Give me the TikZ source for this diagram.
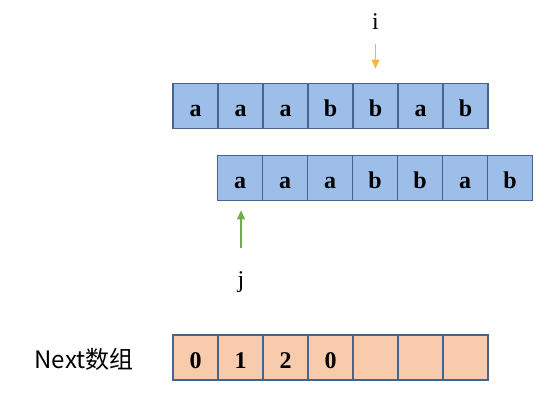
\documentclass[tikz,border=0pt]{standalone}
\usepackage{fontspec}
\setmainfont{Liberation Serif}
\newfontfamily\cjk{Noto Sans CJK SC}
\usepackage{tikz}
\usetikzlibrary{arrows.meta}
\usetikzlibrary{positioning}
\definecolor{cellblue}{HTML}{9DBEE8}
\definecolor{cellorange}{HTML}{F8CBAD}
\definecolor{cellline}{HTML}{44668E}
\definecolor{iorange}{HTML}{F9B632}
\definecolor{jgreen}{HTML}{70AD47}
\tikzstyle{cell} = [rectangle, draw=cellline, line width=1.8pt,
    minimum width=45pt, minimum height=45pt, inner sep=0pt,
    text height=21pt, text depth=0pt,
    font=\fontsize{24}{28}\selectfont\bfseries]
\tikzstyle{strcell} = [cell, fill=cellblue]
\tikzstyle{nextcell} = [cell, fill=cellorange]
\tikzstyle{pointer} = [font=\fontsize{24}{28}\selectfont]
\tikzstyle{line} = [draw, line width=1.3pt, -{Triangle[length=9pt,width=8pt]}]

\begin{document}
\begin{tikzpicture}[x=1pt,y=-1pt]
    \useasboundingbox (0,0) rectangle (556,406);
    % Place nodes
    \foreach \c [count=\k] in {a,a,a,b,b,a,b}
        \node [strcell] (t\k) at (150.5+45*\k,106) {\c};
    \foreach \c [count=\k] in {a,a,a,b,b,a,b}
        \node [strcell] (p\k) at (195+45*\k,178) {\c};
    \foreach \c [count=\k] in {0,1,2,0,{},{},{}}
        \node [nextcell] (n\k) at (150.5+45*\k,357.5) {\c};
    \node [pointer, anchor=base] (i) at (t5 |- 0,30) {i};
    \node [pointer, anchor=base] (j) at (241,287) {j};
    \node [anchor=base, font=\fontsize{24}{28}\selectfont\cjk] (next) at (84,368) {Next数组};
    % Draw edges
    \path [line, iorange, shorten <=10pt, shorten >=14pt] (i) -- (i |- t5.north);
    \path [line, jgreen, shorten <=20pt, shorten >=9pt] (j) -- (j |- p1.south);
\end{tikzpicture}
\end{document}
